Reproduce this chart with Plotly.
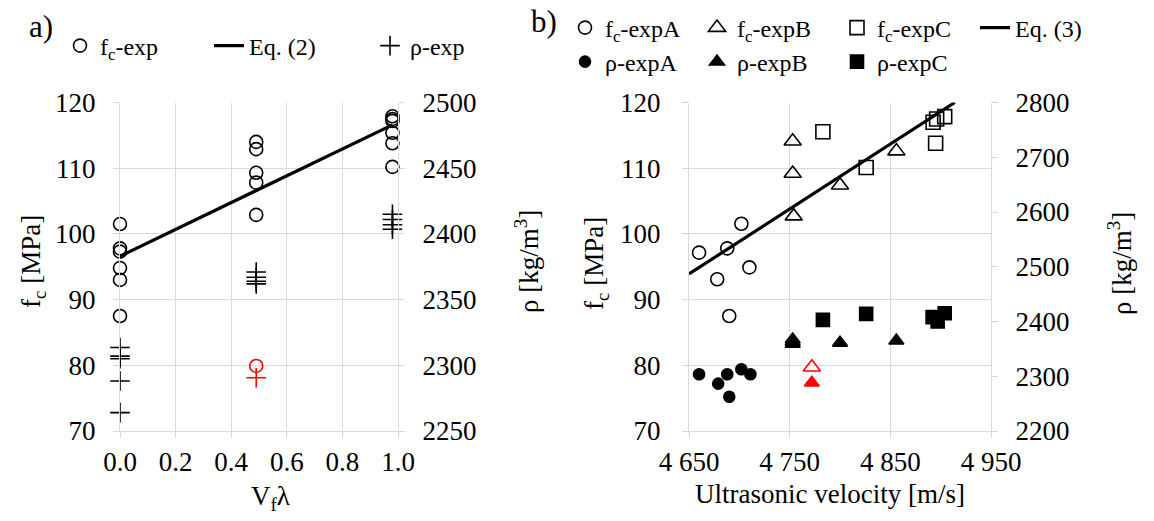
import plotly.graph_objects as go

W, H = 1154, 521
FONT = "Liberation Serif, Times New Roman, serif"
GRID = "#d9d9d9"

# ---------------- Panel a data ----------------
a_fc_x = [0, 0, 0, 0, 0, 0, 0.49, 0.49, 0.49, 0.49, 0.49, 0.98, 0.98, 0.98, 0.98, 0.98, 0.98]
a_fc_y = [101.5, 97.8, 97.3, 94.8, 93.0, 87.5, 114.0, 112.9, 109.3, 107.8, 102.9,
          117.9, 117.5, 117.2, 115.4, 113.8, 110.2]
a_rho_x = [0, 0, 0, 0, 0, 0.49, 0.49, 0.49, 0.49, 0.98, 0.98, 0.98, 0.98]
a_rho_y = [2313.5, 2307, 2305, 2288, 2264, 2371, 2367, 2364, 2362, 2415, 2411, 2407, 2403.5]
a_out_x = [0.49]
a_out_fc = [79.9]
a_out_rho = [2290.5]
a_eq_x = [0, 0.98]
a_eq_y = [96.6, 116.6]
a_xticks = [0.0, 0.2, 0.4, 0.6, 0.8, 1.0]

# ---------------- Panel b data ----------------
bA_x = [4660, 4678, 4688, 4690, 4702, 4710]
bA_fc = [97.15, 93.1, 97.8, 87.5, 101.55, 94.9]
bA_rho_x = [4660, 4679, 4688, 4690, 4702, 4711]
bA_rho = [2303.6, 2286.5, 2303.6, 2262.5, 2312.8, 2303.6]

bB_x = [4753, 4753, 4754, 4800, 4856]
bB_fc = [114.1, 109.2, 102.7, 107.4, 112.6]
bB_rho_x = [4753, 4753, 4753, 4800, 4856]
bB_rho = [2367, 2363, 2359, 2361, 2365]
bB_out_x = [4772]
bB_out_fc = [79.7]
bB_out_rho = [2288]

bC_x = [4783, 4826, 4892.5, 4896, 4904, 4895]
bC_fc = [115.55, 110.1, 117.0, 117.5, 117.85, 113.8]
bC_rho_x = [4783, 4826, 4892, 4897, 4904]
bC_rho = [2403, 2414, 2408, 2400, 2415]

b_eq_x = [4650, 4914]
b_eq_y = [93.9, 120.0]

b_xtickvals = [4650, 4750, 4850, 4950]
b_xticktext = ["4 650", "4 750", "4 850", "4 950"]

fig = go.Figure()

# ---- panel a traces ----
fig.add_trace(go.Scatter(
    x=a_fc_x, y=a_fc_y, mode="markers", name="f<sub>c</sub>-exp",
    marker=dict(symbol="circle-open", size=13, color="black", line=dict(width=1.6)),
    xaxis="x", yaxis="y", cliponaxis=False, legend="legend", legendwidth=104))
fig.add_trace(go.Scatter(
    x=a_eq_x, y=a_eq_y, mode="lines", name="Eq. (2)",
    line=dict(color="black", width=3.2),
    xaxis="x", yaxis="y", legend="legend", legendwidth=116))
fig.add_trace(go.Scatter(
    x=a_rho_x, y=a_rho_y, mode="markers", name="ρ-exp",
    marker=dict(symbol="cross-thin", size=14, color="black", line=dict(width=1.6, color="black")),
    xaxis="x", yaxis="y2", cliponaxis=False, legend="legend", legendwidth=70))
fig.add_trace(go.Scatter(
    x=a_out_x, y=a_out_fc, mode="markers", showlegend=False,
    marker=dict(symbol="circle-open", size=13, color="red", line=dict(width=1.6)),
    xaxis="x", yaxis="y", cliponaxis=False))
fig.add_trace(go.Scatter(
    x=a_out_x, y=a_out_rho, mode="markers", showlegend=False,
    marker=dict(symbol="cross-thin", size=14, color="red", line=dict(width=1.6, color="red")),
    xaxis="x", yaxis="y2", cliponaxis=False))

# ---- panel b traces ----
def mk(sym, size, color="black"):
    return dict(symbol=sym, size=size, color=color, line=dict(width=1.6, color=color))

fig.add_trace(go.Scatter(x=bA_x, y=bA_fc, mode="markers", name="f<sub>c</sub>-expA",
                         marker=mk("circle-open", 13), xaxis="x2", yaxis="y3",
                         cliponaxis=False, legend="legend2", legendwidth=87))
fig.add_trace(go.Scatter(x=bB_x, y=bB_fc, mode="markers", name="f<sub>c</sub>-expB",
                         marker=mk("triangle-up-open", 15), xaxis="x2", yaxis="y3",
                         cliponaxis=False, legend="legend2", legendwidth=95))
fig.add_trace(go.Scatter(x=bC_x, y=bC_fc, mode="markers", name="f<sub>c</sub>-expC",
                         marker=mk("square-open", 14), xaxis="x2", yaxis="y3",
                         cliponaxis=False, legend="legend2", legendwidth=93))
fig.add_trace(go.Scatter(x=b_eq_x, y=b_eq_y, mode="lines", name="Eq. (3)",
                         line=dict(color="black", width=3.2), xaxis="x2", yaxis="y3",
                         legend="legend2", legendwidth=80))
fig.add_trace(go.Scatter(x=bA_rho_x, y=bA_rho, mode="markers", name="ρ-expA",
                         marker=mk("circle", 11), xaxis="x2", yaxis="y4",
                         cliponaxis=False, legend="legend3", legendwidth=87))
fig.add_trace(go.Scatter(x=bB_rho_x, y=bB_rho, mode="markers", name="ρ-expB",
                         marker=mk("triangle-up", 13), xaxis="x2", yaxis="y4",
                         cliponaxis=False, legend="legend3", legendwidth=95))
fig.add_trace(go.Scatter(x=bC_rho_x, y=bC_rho, mode="markers", name="ρ-expC",
                         marker=mk("square", 13), xaxis="x2", yaxis="y4",
                         cliponaxis=False, legend="legend3", legendwidth=93))
fig.add_trace(go.Scatter(x=bB_out_x, y=bB_out_fc, mode="markers", showlegend=False,
                         marker=mk("triangle-up-open", 15, "red"), xaxis="x2", yaxis="y3",
                         cliponaxis=False))
fig.add_trace(go.Scatter(x=bB_out_x, y=bB_out_rho, mode="markers", showlegend=False,
                         marker=mk("triangle-up", 13, "red"), xaxis="x2", yaxis="y4",
                         cliponaxis=False))

# ---- layout ----
def px_x(p):
    return p / W

def px_y(p):
    return 1 - p / H

ydom = [px_y(431), px_y(102.5)]
tickfont = dict(family=FONT, size=27, color="black")

common_axis = dict(showgrid=True, gridcolor=GRID, gridwidth=1, showline=True, linecolor=GRID,
                   linewidth=1, ticks="outside", tickcolor=GRID, ticklen=6, zeroline=False,
                   tickfont=tickfont, automargin=False)

legend_common = dict(orientation="h", bgcolor="rgba(0,0,0,0)", borderwidth=0,
                     font=dict(family=FONT, size=24, color="black"),
                     xanchor="left", yanchor="middle", itemwidth=30)

fig.update_layout(
    width=W, height=H, margin=dict(l=0, r=0, t=0, b=0, autoexpand=False),
    paper_bgcolor="white", plot_bgcolor="white",
    font=dict(family=FONT, size=24, color="black"),
    xaxis=dict(common_axis, domain=[px_x(120), px_x(398)], range=[0, 1], tickvals=a_xticks,
               tickformat=".1f", anchor="y", ticklabelstandoff=1),
    yaxis=dict(common_axis, domain=ydom, range=[70, 120], dtick=10, anchor="x",
               ticklabelstandoff=12),
    yaxis2=dict(common_axis, showgrid=False, range=[2250, 2500], dtick=50, overlaying="y",
                side="right", anchor="x", ticklabelstandoff=12),
    xaxis2=dict(common_axis, domain=[px_x(689), px_x(991)], range=[4650, 4950],
                tickvals=b_xtickvals, ticktext=b_xticktext, anchor="y3", ticklabelstandoff=1),
    yaxis3=dict(common_axis, domain=ydom, range=[70, 120], dtick=10, anchor="x2",
                ticklabelstandoff=16),
    yaxis4=dict(common_axis, showgrid=False, range=[2200, 2800], dtick=100, overlaying="y3",
                side="right", anchor="x2", ticklabelstandoff=12),
    legend=dict(legend_common, x=px_x(60), y=px_y(46)),
    legend2=dict(legend_common, x=px_x(565), y=px_y(28)),
    legend3=dict(legend_common, x=px_x(565), y=px_y(62)),
    showlegend=True,
)

title_font = dict(family=FONT, size=27, color="black")
annots = [
    dict(text="a)", x=px_x(41), y=px_y(27), font=dict(family=FONT, size=31, color="black")),
    dict(text="b)", x=px_x(544), y=px_y(22), font=dict(family=FONT, size=31, color="black")),
    dict(text="f<sub>c</sub> [MPa]", x=px_x(33), y=px_y(262), textangle=-90, font=title_font),
    dict(text="ρ [kg/m<sup>3</sup>]", x=px_x(527), y=px_y(262), textangle=-90, font=title_font),
    dict(text="V<sub>f</sub>λ", x=px_x(270), y=px_y(498), font=title_font),
    dict(text="f<sub>c</sub> [MPa]", x=px_x(596), y=px_y(264), textangle=-90, font=title_font),
    dict(text="ρ [kg/m<sup>3</sup>]", x=px_x(1120), y=px_y(264), textangle=-90, font=title_font),
    dict(text="Ultrasonic velocity [m/s]", x=px_x(830), y=px_y(494), font=title_font),
]
for a in annots:
    a.update(xref="paper", yref="paper", showarrow=False, xanchor="center", yanchor="middle")
fig.update_layout(annotations=annots)

fig.write_html("out.html")
